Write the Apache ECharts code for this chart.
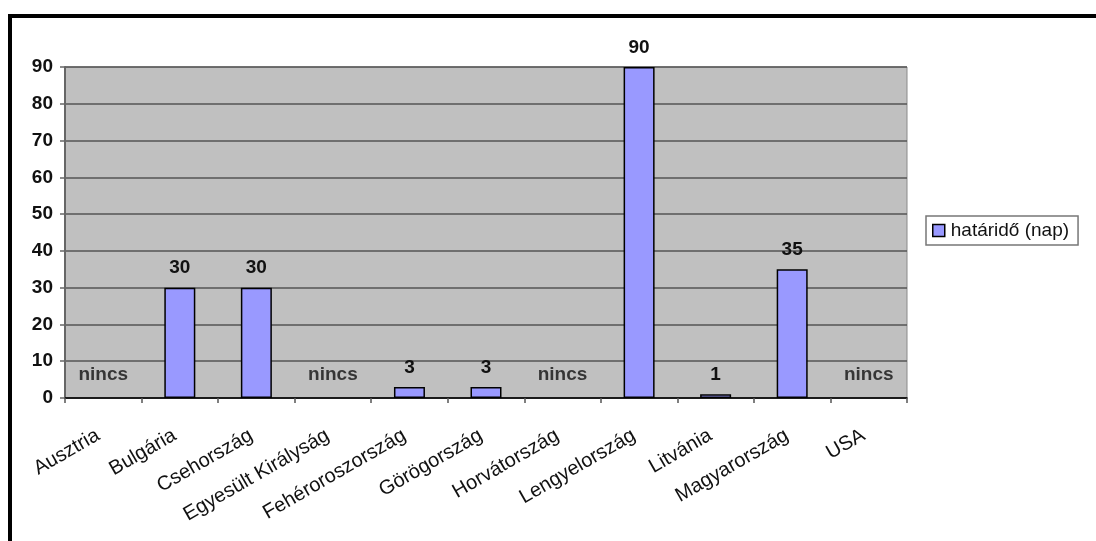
<!DOCTYPE html>
<html>
<head>
<meta charset="utf-8">
<script src="https://cdn.jsdelivr.net/npm/echarts@6/dist/echarts.min.js"></script>
<style>
  html, body { margin: 0; padding: 0; background: #fff; }
  #chart { position: absolute; left: 0; top: 0; width: 1096px; height: 541px; }
  #frame { position: absolute; left: 8px; top: 14px; width: 1200px; height: 700px;
           border-top: 4px solid #000; border-left: 4px solid #000; pointer-events: none; }
</style>
</head>
<body>
<div id="chart"></div>
<div id="frame"></div>
<script>
const categories = ['Ausztria', 'Bulgária', 'Csehország', 'Egyesült Királyság', 'Fehéroroszország',
  'Görögország', 'Horvátország', 'Lengyelország', 'Litvánia', 'Magyarország', 'USA'];
const values = [null, 30, 30, null, 3, 3, null, 90, 1, 35, null];
const seriesName = 'határidő (nap)';
const noDataText = 'nincs';
const yTicks = [0, 10, 20, 30, 40, 50, 60, 70, 80, 90];

const noDataMarks = values.map(v => (v === null ? 0 : null));

const chart = echarts.init(document.getElementById('chart'));
const font = '"Liberation Sans", Arial, sans-serif';
chart.setOption({
  animation: false,
  textStyle: { fontFamily: font },
  grid: {
    left: 65, top: 67, right: 189, bottom: 143,
    show: true, backgroundColor: '#C0C0C0', borderColor: '#8a8a8a', borderWidth: 1
  },
  legend: {
    data: [seriesName],
    orient: 'vertical',
    left: 926, top: 216,
    padding: [5, 9, 5, 6],
    borderColor: '#777', borderWidth: 1.5,
    backgroundColor: '#fff',
    itemWidth: 12, itemHeight: 12, itemGap: 4,
    icon: 'rect',
    itemStyle: { borderColor: '#000', borderWidth: 1.5 },
    textStyle: { fontFamily: font, fontSize: 19, color: '#111', padding: [0, 0, 0, 1] }
  },
  xAxis: {
    type: 'category',
    data: categories,
    boundaryGap: true,
    axisLine: { lineStyle: { color: '#000', width: 1.5 } },
    axisTick: { show: true, interval: 0, length: 5, lineStyle: { color: '#555', width: 1.5 } },
    axisLabel: { interval: 0, rotate: 30, fontSize: 20, color: '#111', margin: 33,
                 padding: [0, 6, 0, 0], fontFamily: font },
    splitLine: { show: false }
  },
  yAxis: {
    type: 'value',
    min: yTicks[0], max: yTicks[yTicks.length - 1], interval: 10,
    axisLine: { show: true, lineStyle: { color: '#666', width: 2 } },
    axisTick: { show: true, length: 5, lineStyle: { color: '#666', width: 1.5 } },
    axisLabel: { fontSize: 19, fontWeight: 'bold', color: '#111', margin: 12, fontFamily: font },
    splitLine: { show: true, lineStyle: { color: '#555', width: 1.5 } }
  },
  series: [
    {
      name: seriesName,
      type: 'bar',
      data: values,
      barWidth: 31,
      itemStyle: { color: '#9999FF', borderColor: '#000', borderWidth: 1.5 },
      label: {
        show: true, position: 'top', distance: 10,
        fontSize: 19, fontWeight: 'bold', color: '#111', fontFamily: font
      }
    },
    {
      name: 'nodata',
      type: 'scatter',
      data: noDataMarks,
      symbolSize: 0,
      silent: true,
      label: {
        show: true, position: 'top', distance: 14,
        formatter: noDataText,
        fontSize: 19, fontWeight: 'bold', color: '#111', fontFamily: font
      }
    }
  ]
});
</script>
</body>
</html>
